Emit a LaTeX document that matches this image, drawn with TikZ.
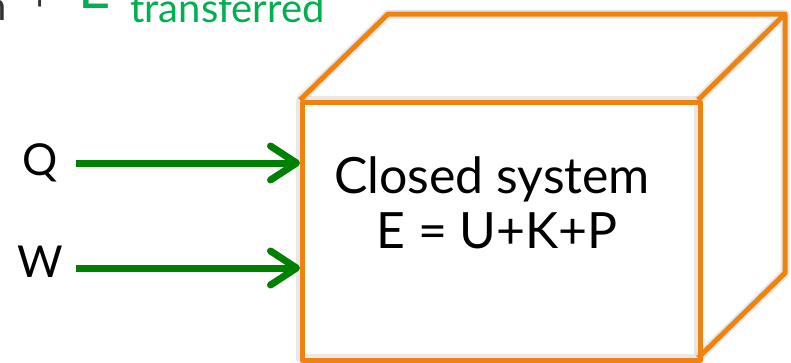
\documentclass[tikz,border=0pt]{standalone}
\usepackage{fontspec}
\setmainfont{Lato}
\usetikzlibrary{arrows.meta}
\definecolor{boxorange}{HTML}{F0830F}
\definecolor{arrgreen}{HTML}{008000}
\definecolor{txtgreen}{HTML}{00B050}
\tikzset{
  edge/.style={draw=boxorange, line width=5pt, line join=round},
  shade/.style={draw=black!25, line width=9pt, line join=round, opacity=0.35},
  flow/.style={draw=arrgreen, line width=7pt, -{Straight Barb[length=26pt,width=34pt,line cap=round,line join=round]}},
  lbl/.style={font=\fontsize{44}{46}\selectfont, inner sep=0pt},
  inbox/.style={font=\fontsize{50}{56}\selectfont, align=center, inner sep=0pt},
}
\begin{document}
\begin{tikzpicture}[x=1pt,y=-1pt]
\useasboundingbox (0,0) rectangle (791,362);
\clip (0,0) rectangle (791,362);
\fill[white] (0,0) rectangle (791,362);
% coordinates of the cuboid
\coordinate (ftl) at (300,100);
\coordinate (ftr) at (698,100);
\coordinate (fbr) at (698,358);
\coordinate (fbl) at (300,358);
\coordinate (btl) at (388,14);
\coordinate (btr) at (785,14);
\coordinate (bbr) at (785,273);
% soft shadow
\draw[shade] (ftl) -- (btl) -- (btr) -- (bbr) -- (fbr) (ftr) -- (btr);
\draw[shade] (ftl) rectangle (fbr);
% faces
\draw[edge] (ftl) -- (btl) -- (btr) -- (bbr) -- (fbr);
\draw[edge] (ftr) -- (btr);
\node[edge, draw, minimum width=398pt, minimum height=258pt, inner sep=0pt, anchor=north west] (front) at (ftl) {};
% text in box
\node[inbox, anchor=base] (t1) at (492,193) {Closed system};
\node[inbox, anchor=base] (t2) at (497,248) {E = U+K+P};
% top cut-off text
\node[font=\fontsize{40}{40}\selectfont, anchor=base west, inner sep=0pt, text=black!80] (n) at (-16,20) {n};
\node[font=\fontsize{40}{40}\selectfont, anchor=base west, inner sep=0pt, text=black!80] (plus) at (28,10) {+};
\node[font=\fontsize{56}{60}\selectfont, anchor=base west, inner sep=0pt, text=txtgreen] (E) at (78,8) {E};
\node[font=\fontsize{40}{42}\selectfont, anchor=base west, inner sep=0pt, text=txtgreen] (tr) at (130,22) {transferred};
% Q and W
\node[lbl, anchor=base] (Q) at (40,175) {Q};
\node[lbl, anchor=base] (W) at (40,277) {W};
\coordinate (qs) at (76,163);
\coordinate (ws) at (76,268);
\draw[flow] (qs) -- (qs -| front.west);
\draw[flow] (ws) -- (ws -| front.west);
\end{tikzpicture}
\end{document}
